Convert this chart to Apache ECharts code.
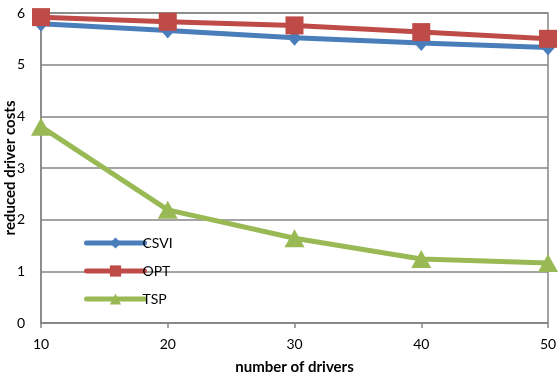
<!DOCTYPE html>
<html><head><meta charset="utf-8">
<script src="https://cdn.jsdelivr.net/npm/echarts@6/dist/echarts.min.js"></script>
<style>html,body{margin:0;padding:0;background:#fff}#c{width:558px;height:376px}</style>
</head><body><div id="c"></div>
<script>
const drivers = [10, 20, 30, 40, 50];
const csvi = [5.79, 5.66, 5.52, 5.42, 5.33];
const opt = [5.92, 5.83, 5.76, 5.63, 5.50];
const tsp = [3.80, 2.19, 1.64, 1.24, 1.16];
const seriesNames = ['CSVI', 'OPT', 'TSP'];
const font = 'Lato, "Open Sans", sans-serif';
const chart = echarts.init(document.getElementById('c'));
function pts(arr){ return drivers.map((d,i)=>[d, arr[i]]); }
chart.setOption({
  animation: false,
  backgroundColor: '#fff',
  grid: { left: 41, right: 10, top: 13, bottom: 53, show: true, borderColor: '#868686', borderWidth: 1.5,
          containLabel: false, outerBoundsMode: 'none' },
  xAxis: {
    type: 'value', min: 10, max: 50, interval: 10,
    name: 'number of drivers', nameLocation: 'middle', nameGap: 37, nameMoveOverlap: false,
    nameTextStyle: { fontFamily: font, fontWeight: 'bold', fontSize: 15, color: '#000' },
    axisLine: { show: true, lineStyle: { color: '#868686', width: 1.5 } },
    axisTick: { show: true, inside: false, length: 5, lineStyle: { color: '#868686', width: 1.5 } },
    axisLabel: { fontFamily: font, fontSize: 14, color: '#000', margin: 14 },
    splitLine: { show: false }
  },
  yAxis: {
    type: 'value', min: 0, max: 6, interval: 1,
    name: 'reduced driver costs', nameLocation: 'middle', nameGap: 23, nameMoveOverlap: false,
    nameTextStyle: { fontFamily: font, fontWeight: 'bold', fontSize: 15, color: '#000' },
    axisLine: { show: true, lineStyle: { color: '#868686', width: 1.5 } },
    axisTick: { show: false },
    axisLabel: { fontFamily: font, fontSize: 14, color: '#000', margin: 16 },
    splitLine: { show: true, lineStyle: { color: '#868686', width: 1.5 } }
  },
  legend: {
    orient: 'vertical', left: 79, top: 231, itemGap: 14,
    itemWidth: 58, itemHeight: 14,
    lineStyle: { width: 5, cap: 'round' },
    textStyle: { fontFamily: font, fontSize: 14, color: '#000', padding: [0,0,0,-7] },
    data: seriesNames
  },
  series: [
    { name: seriesNames[0], type: 'line', data: pts(csvi), symbol: 'diamond', symbolSize: [14, 16],
      lineStyle: { color: '#4a7ebb', width: 5 }, itemStyle: { color: '#4a7ebb' } },
    { name: seriesNames[1], type: 'line', data: pts(opt), symbol: 'rect', symbolSize: 18,
      lineStyle: { color: '#be4b48', width: 5 }, itemStyle: { color: '#be4b48' } },
    { name: seriesNames[2], type: 'line', data: pts(tsp), symbol: 'triangle', symbolSize: [20, 18],
      lineStyle: { color: '#98b954', width: 5 }, itemStyle: { color: '#98b954' } }
  ]
});
</script></body></html>
